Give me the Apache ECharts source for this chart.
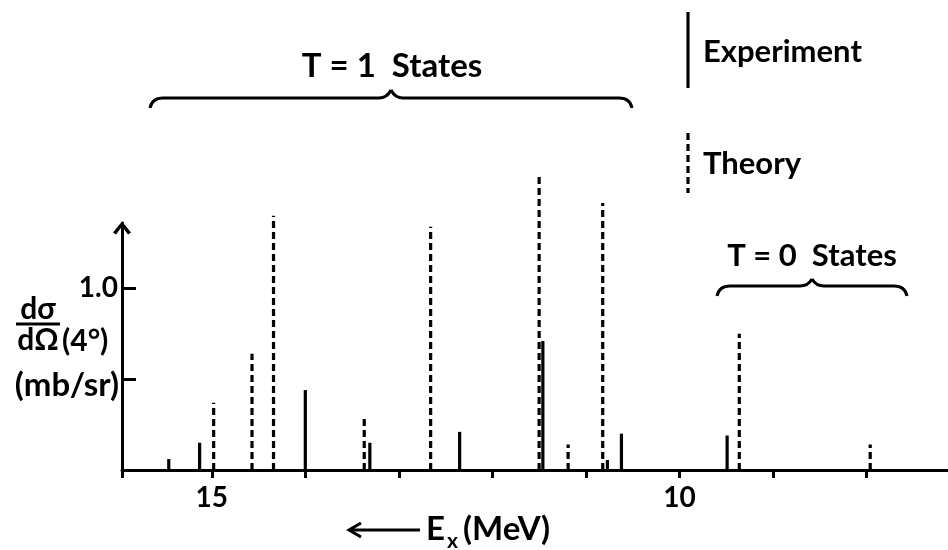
<!DOCTYPE html>
<html>
<head>
<meta charset="utf-8">
<script src="https://cdn.jsdelivr.net/npm/echarts@6/dist/echarts.min.js"></script>
<style>
  html, body { margin: 0; padding: 0; background: #fff; }
  #main { width: 948px; height: 550px; }
</style>
</head>
<body>
<div id="main"></div>
<script>
// excitation energies (MeV) and d sigma / d Omega at 4 deg (mb/sr)
const expEnergy = [15.46, 15.13, 14.0, 13.31, 12.35, 11.46, 10.77, 10.62, 9.49]
const expCross = [0.06, 0.15, 0.44, 0.15, 0.21, 0.71, 0.055, 0.20, 0.19]
const theoryEnergy = [14.98, 14.57, 14.34, 13.37, 12.66, 11.5, 11.19, 10.82, 9.36, 7.96]
const theoryCross = [0.37, 0.64, 1.40, 0.29, 1.34, 1.63, 0.14, 1.47, 0.75, 0.14]
const xTickLabels = ['15', '10']
const yTicks = [0.5, 1.0]
const yTickLabels = [1.0]

const font = 'Lato'
const weight = 'bold'
const chart = echarts.init(document.getElementById('main'))

// vertical stick from 0 up to the value
function stick(dashed) {
    return function (params, api) {
        const p0 = api.coord([api.value(0), 0])
        const p1 = api.coord([api.value(0), api.value(1)])
        return {
            type: 'line',
            shape: { x1: p0[0], y1: p0[1], x2: p1[0], y2: p1[1] },
            style: { stroke: '#000', lineWidth: 3.2, lineDash: dashed ? [7, 4] : null }
        }
    }
}

function txt(x, y, text, size, align, vAlign) {
    return {
        type: 'text', x: x, y: y,
        style: { text: text, fontSize: size, fontFamily: font, fontWeight: weight, fill: '#000', align: align || 'left', verticalAlign: vAlign || 'middle' }
    }
}

const ink = { stroke: '#000', lineWidth: 3, fill: null }
function curve(x1, y1, cx, cy, x2, y2) {
    return { type: 'bezierCurve', shape: { x1: x1, y1: y1, cpx1: cx, cpy1: cy, x2: x2, y2: y2 }, style: ink }
}
function seg(x1, y1, x2, y2, dash) {
    return { type: 'line', shape: { x1: x1, y1: y1, x2: x2, y2: y2 }, style: { stroke: '#000', lineWidth: 3.2, lineDash: dash || null } }
}
// curly brace: left end, right end, bar height, hook depth
function brace(xl, xr, y, hook, bump) {
    const xm = (xl + xr) / 2
    return [
        curve(xl, y + hook, xl + 2, y, xl + 13, y),
        seg(xl + 13, y, xm - 12, y),
        curve(xm - 12, y, xm - 4, y, xm, y - bump),
        curve(xm, y - bump, xm + 4, y, xm + 12, y),
        seg(xm + 12, y, xr - 13, y),
        curve(xr - 13, y, xr - 2, y, xr, y + hook)
    ]
}

const option = {
    backgroundColor: '#fff',
    animation: false,
    grid: { left: 122, right: -12, top: 223, bottom: 80, outerBoundsMode: 'none' },
    xAxis: {
        type: 'value', inverse: true, min: 7, max: 15.96, interval: 1,
        splitLine: { show: false },
        axisLine: { lineStyle: { color: '#000', width: 3 } },
        axisTick: { length: 8, lineStyle: { color: '#000', width: 3 } },
        axisLabel: {
            color: '#000', fontSize: 28, fontFamily: font, fontWeight: weight, margin: 14,
            formatter: v => xTickLabels.indexOf(String(v)) >= 0 ? String(v) : ''
        }
    },
    yAxis: {
        type: 'value', min: 0, max: 1.36, interval: 0.5,
        splitLine: { show: false },
        axisLine: {
            lineStyle: { color: '#000', width: 3 },
            symbol: ['none', 'path://M9,0 L18,11 L15,13 L9,5 L3,13 L0,11 Z'],
            symbolSize: [18, 13], symbolOffset: [0, -5]
        },
        axisTick: { inside: true, length: 14, customValues: yTicks, lineStyle: { color: '#000', width: 3 } },
        axisLabel: {
            color: '#000', fontSize: 28, fontFamily: font, fontWeight: weight, margin: 4,
            customValues: yTickLabels,
            formatter: v => v.toFixed(1)
        }
    },
    series: [
        {
            type: 'custom', name: 'Experiment', clip: false,
            renderItem: stick(false),
            data: expEnergy.map((e, i) => [e, expCross[i]])
        },
        {
            type: 'custom', name: 'Theory', clip: false,
            renderItem: stick(true),
            data: theoryEnergy.map((e, i) => [e, theoryCross[i]])
        }
    ],
    graphic: [
        // key
        seg(688, 12, 688, 88),
        txt(703, 52, 'Experiment', 31),
        seg(688, 133, 688, 193, [7, 4]),
        txt(703, 164, 'Theory', 31),
        // T = 1 brace
        txt(392, 66, 'T = 1  States', 33, 'center'),
        ...brace(150, 632, 98, 10, 8),
        // T = 0 brace
        txt(812, 256, 'T = 0  States', 31, 'center'),
        ...brace(717, 907, 286, 10, 7),
        // y label
        txt(38, 324, 'dσ', 30, 'center', 'bottom'),
        seg(16, 324, 60, 324),
        txt(38, 325, 'dΩ', 30, 'center', 'top'),
        txt(62, 341, '(4°)', 30),
        txt(119, 385, '(mb/sr)', 33, 'right'),
        // x label
        seg(350, 530, 420, 530),
        { type: 'polyline', shape: { points: [[361, 523], [349, 530], [361, 537]] }, style: ink },
        txt(426, 529, 'E', 33),
        txt(447, 541, 'x', 21),
        txt(463, 529, '(MeV)', 33)
    ]
}

chart.setOption(option)
</script>
</body>
</html>
